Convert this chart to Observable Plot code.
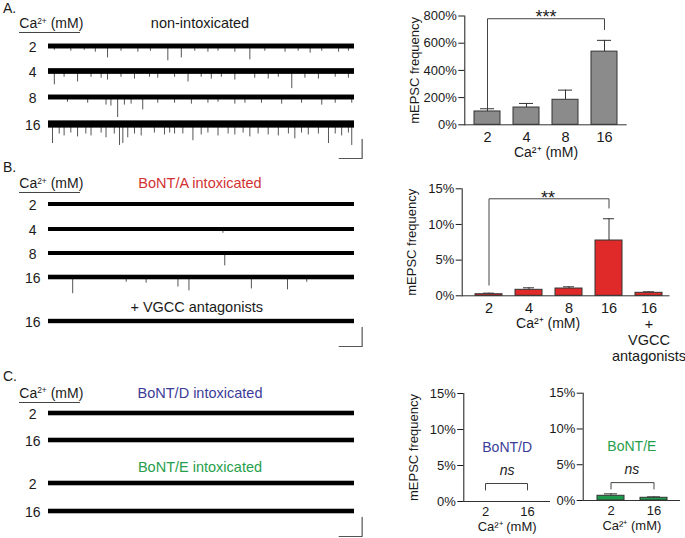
<!DOCTYPE html>
<html><head><meta charset="utf-8">
<script src="https://cdn.jsdelivr.net/npm/d3@7"></script>
<script src="https://cdn.jsdelivr.net/npm/@observablehq/plot@0.6"></script>
<style>
body{margin:0;background:#fff;}
#fig{position:relative;width:685px;height:538px;overflow:hidden;background:#fff;font-family:"Liberation Sans",Arial,Helvetica,sans-serif;color:#1a1a1a;}
.t{position:absolute;white-space:nowrap;line-height:1;}
.t sup{font-size:0.6em;vertical-align:baseline;position:relative;top:-0.55em;}
.ul{position:absolute;height:1px;background:#444;}
.w{position:absolute;}
.w svg{max-width:none;}
</style></head><body><div id="fig"></div>
<script>
// ---------------- DATA ----------------
// Bar charts: mEPSC frequency (% of 2 mM non-intoxicated), mean and SEM
const caA = ["2", "4", "8", "16"];
const meanA = [98, 127, 184, 538];
const semA = [20, 30, 71, 83];
const sigA = {from: "2", to: "16", y: 780, footFrom: 122, footTo: 700, label: "***"};

const caB = ["2", "4", "8", "16", "16\n+\nVGCC\nantagonists"];
const meanB = [0.22, 0.84, 1.02, 7.75, 0.42];
const semB = [0.15, 0.28, 0.24, 3.05, 0.14];
const sigB = {from: "2", to: "16", y: 13.6, footFrom: 1.5, footTo: 12.3, label: "**"};

const caC = ["2", "16"];
const meanD = [0, 0];
const semD = [0, 0];
const sigD = {from: "2", to: "16", y: 2.5, footFrom: 1.6, footTo: 1.6, label: "ns"};
const meanE = [0.66, 0.38];
const semE = [0.27, 0.13];
const sigE = {from: "2", to: "16", y: 2.5, footFrom: 1.6, footTo: 1.6, label: "ns"};
const toxinD = {name: "BoNT/D", y: 7.5};
const toxinE = {name: "BoNT/E", y: 7.5};

const yTicksA = [0, 200, 400, 600, 800];
const yTicksBC = [0, 5, 10, 15];

// Example recordings: [time (% of sweep), mEPSC amplitude (pA, downward)]
const traceDuration = 100;
const scaleBar = {time: 7.5, amp: 20, gap: 2.5};
const spikesA2 = [[1.9,4],[7.3,5],[11.7,4],[15.3,6],[19.3,12],[23.7,5],[29.2,6],[33.3,5],[39.0,15],[43.4,12],[47.8,5],[52.1,6],[55.4,5],[60.9,6],[65.8,14],[70.7,5],[77.3,6],[81.6,5],[85.5,7],[89.3,5],[94.8,6],[98.0,5]];
const spikesA4 = [[1.9,14],[5.1,6],[9.5,11],[13.9,6],[17.2,7],[19.3,9],[23.7,6],[28.1,8],[33.0,6],[35.7,7],[41.2,6],[45.6,11],[49.9,6],[53.2,8],[56.5,6],[60.9,9],[67.4,7],[71.8,8],[75.1,6],[79.5,18],[83.8,7],[88.2,8],[93.7,6],[98.0,7]];
const spikesA8 = [[6.2,5],[12.8,6],[18.8,8],[20.4,9],[22.6,21],[24.8,8],[27.0,7],[30.8,13],[35.7,6],[41.2,6],[46.7,7],[52.1,6],[55.4,5],[60.9,7],[64.2,6],[69.6,6],[76.2,7],[82.7,6],[89.3,8],[93.7,6],[99.1,6]];
const spikesA16 = [[1.3,20],[3.5,10],[5.1,12],[7.3,9],[9.5,13],[12.2,10],[13.9,12],[17.2,9],[18.8,14],[21.5,10],[23.2,22],[24.3,20],[25.9,14],[28.1,10],[30.3,12],[34.6,9],[37.9,11],[39.6,9],[41.2,10],[43.9,10],[47.2,17],[49.9,11],[52.1,9],[55.4,12],[58.7,10],[60.9,11],[63.6,9],[65.8,13],[68.5,10],[71.8,11],[75.1,12],[78.4,10],[80.5,15],[82.7,9],[84.9,11],[88.2,10],[91.5,20],[93.7,10],[95.8,12],[98.0,9],[99.1,22]];
const spikesB2 = [];
const spikesB4 = [[57.0,4]];
const spikesB8 = [[57.6,13]];
const spikesB16 = [[7.9,17],[25.4,5],[31.9,6],[42.3,10],[45.9,14],[66.3,12],[78.1,13],[84.4,5]];
const spikesB16V = [];
const spikesC = [];
const noiseA = [2.6, 3.0, 2.6, 3.8];
const noiseB = [2.1, 2.1, 2.1, 2.4, 2.3];
const noiseC = [2.4, 2.4, 2.4, 2.4];

// ---------------- LAYOUT HELPERS ----------------
const fig = document.getElementById("fig");
const FONT = '"Liberation Sans", Arial, Helvetica, sans-serif';
function place(node, left, top, w, h) {
  const d = document.createElement("div");
  d.className = "w";
  d.style.left = left + "px"; d.style.top = top + "px";
  if (w) d.style.width = w + "px";
  if (h) d.style.height = h + "px";
  d.appendChild(node); fig.appendChild(d); return d;
}
function label(html, x, cy, opts = {}) {
  const d = document.createElement("div");
  d.className = "t";
  d.innerHTML = html;
  d.style.left = x + "px"; d.style.top = cy + "px";
  d.style.fontSize = (opts.size || 14) + "px";
  if (opts.color) d.style.color = opts.color;
  const tx = opts.align === "center" ? "-50%" : opts.align === "right" ? "-100%" : "0";
  d.style.transform = `translate(${tx}, -50%)`;
  fig.appendChild(d);
}
function underline(x, y, w) {
  const d = document.createElement("div");
  d.className = "ul";
  d.style.left = x + "px"; d.style.top = y + "px"; d.style.width = w + "px";
  fig.appendChild(d);
}

// ---------------- TRACES ----------------
const TW = 370, TH = 50, TBASE = 10;
function tracePlot(spikes, noise) {
  return Plot.plot({
    width: TW, height: TH, marginTop: 0, marginBottom: 0, marginLeft: 48, marginRight: 16,
    style: {background: "transparent", overflow: "visible"},
    x: {domain: [0, traceDuration], axis: null},
    y: {domain: [-42, 10.5], axis: null},
    marks: [
      Plot.ruleX(spikes, {x: d => d[0], y1: 0, y2: d => -d[1], stroke: "#555", strokeWidth: 1}),
      Plot.rect([noise], {x1: 0, x2: traceDuration, y1: d => -d, y2: d => d, fill: "#000"})
    ]
  });
}
function scaleBarPlot() {
  const end = traceDuration + scaleBar.gap;
  const pts = [{t: end - scaleBar.time, a: 0}, {t: end, a: 0}, {t: end, a: scaleBar.amp}];
  return Plot.plot({
    width: TW, height: TH, marginTop: 0, marginBottom: 0, marginLeft: 48, marginRight: 16,
    style: {background: "transparent", overflow: "visible"},
    x: {domain: [0, traceDuration], axis: null},
    y: {domain: [-42, 10.5], axis: null},
    marks: [Plot.line(pts, {x: "t", y: "a", stroke: "#555", strokeWidth: 1.2})]
  });
}
function traceRow(lab, spikes, noise, base) {
  place(tracePlot(spikes, noise), 0, base - TBASE, TW, TH);
  label(lab, 32.7, base + 1, {align: "center", size: 14});
}
function header(letter, letterY, caY, title, titleColor, titleY) {
  label(letter, 3, letterY, {size: 14});
  label("Ca<sup>2+</sup> (mM)", 19.3, caY, {size: 14});
  underline(19.3, caY + 9, 61);
  label(title, 200, titleY, {align: "center", size: 14.5, color: titleColor});
}

// Panel A
header("A.", 7.5, 23.3, "non-intoxicated", "#1a1a1a", 22.7);
const baseA = [45.7, 71, 96.7, 124];
[spikesA2, spikesA4, spikesA8, spikesA16].forEach((s, i) => traceRow(caA[i], s, noiseA[i], baseA[i]));
place(scaleBarPlot(), 0, 157.7 - TBASE, TW, TH);

// Panel B
header("B.", 166.7, 183.3, "BoNT/A intoxicated", "#d23232", 182.7);
const baseB = [204, 229, 253.3, 276.7];
[spikesB2, spikesB4, spikesB8, spikesB16].forEach((s, i) => traceRow(caA[i], s, noiseB[i], baseB[i]));
label("+ VGCC antagonists", 196.7, 306.7, {align: "center", size: 14.5});
traceRow("16", spikesB16V, noiseB[4], 320.7);
place(scaleBarPlot(), 0, 346 - TBASE, TW, TH);

// Panel C
header("C.", 376, 392.7, "BoNT/D intoxicated", "#3b3b98", 392.7);
traceRow("2", spikesC, noiseC[0], 413.3);
traceRow("16", spikesC, noiseC[1], 440);
label("BoNT/E intoxicated", 200, 467.3, {align: "center", size: 14.5, color: "#27a04c"});
traceRow("2", spikesC, noiseC[2], 483.3);
traceRow("16", spikesC, noiseC[3], 510.7);
place(scaleBarPlot(), 0, 535.7 - TBASE, TW, TH);

// ---------------- BAR CHARTS ----------------
function barChart(o) {
  const data = o.cats.map((c, i) => ({ca: c, mean: o.means[i], sem: o.sems[i]}));
  const s = o.sig;
  const ns = s.label === "ns";
  const bracket = [{ca: s.from, v: s.footFrom}, {ca: s.from, v: s.y}, {ca: s.to, v: s.y}, {ca: s.to, v: s.footTo}];
  const marks = [
    Plot.ruleX(data, {x: "ca", y1: "mean", y2: d => d.mean + d.sem, stroke: "#333", strokeWidth: 1}),
    Plot.tickY(data, {x: "ca", y: d => d.mean + d.sem, stroke: "#333", strokeWidth: 1, insetLeft: o.cap, insetRight: o.cap}),
    Plot.barY(data, {x: "ca", y: "mean", fill: o.fill, stroke: "#333", strokeWidth: 1}),
    Plot.ruleY([0], {stroke: "#333", strokeWidth: 1}),
    Plot.line(bracket, {x: "ca", y: "v", stroke: "#444", strokeWidth: 1}),
    Plot.text([s], {y: "y", text: "label", frameAnchor: "middle", dx: o.midDx || 0, dy: ns ? -13 : -1,
      fontSize: ns ? 14 : 18, fontStyle: ns ? "italic" : "normal"}),
    Plot.axisX({tickSize: 0, tickPadding: o.tickPad ?? 6, fontSize: o.tickFont ?? 14.5, lineHeight: 1.1, label: null}),
    Plot.text(["Ca²⁺ (mM)"], {text: d => d, frameAnchor: "bottom", dy: o.xLabelDy, dx: o.midDx || 0, fontSize: o.caFont ?? 14})
  ];
  if (o.toxin) marks.push(Plot.text([o.toxin], {y: "y", text: "name", frameAnchor: "middle", fontSize: 14, fill: o.toxinColor}));
  return Plot.plot({
    width: o.width, height: o.height,
    marginLeft: o.ml, marginRight: o.mr, marginTop: o.mt, marginBottom: o.mb,
    style: {background: "transparent", overflow: "visible", fontFamily: FONT, fontSize: "13px", color: "#1a1a1a"},
    x: {domain: o.cats, paddingInner: o.pi, paddingOuter: o.po, align: o.align ?? 0.5},
    y: {domain: [0, o.yMax], ticks: o.yTicks, tickFormat: d => d + "%", tickSize: 6, tickPadding: 2,
        label: o.yLabel ? "mEPSC frequency" : null, labelAnchor: "center", labelOffset: 55, labelArrow: "none", line: true},
    marks
  });
}

place(barChart({cats: caA, means: meanA, sems: semA, fill: "#8b8b8b", sig: sigA, yMax: 800, yTicks: yTicksA,
  width: 300, height: 170, ml: 79.3, mr: 58.3, mt: 15.5, mb: 45.7, pi: 0.33, po: 0.2, cap: 6, xLabelDy: 32, yLabel: true}), 385, 0, 300, 170);
place(barChart({cats: caB, means: meanB, sems: semB, fill: "#e02a2a", sig: sigB, yMax: 15, yTicks: yTicksBC,
  width: 300, height: 200, ml: 76.7, mr: 15.5, mt: 18.3, mb: 74.7, pi: 0.323, po: 0.24, align: 0.64, cap: 8, xLabelDy: 32, midDx: -18, yLabel: true,
  tickFont: 14.5}), 385, 170, 300, 200);
place(barChart({cats: caC, means: meanD, sems: semD, fill: "#1f9a4c", sig: sigD, yMax: 15, yTicks: yTicksBC,
  width: 170, height: 163, ml: 78.3, mr: 5, mt: 18, mb: 37, pi: 0.37, po: 0.2, cap: 7, xLabelDy: 29.5, yLabel: true,
  tickFont: 13, tickPad: 4, caFont: 13, toxin: toxinD, toxinColor: "#3b3b98"}), 385, 375, 170, 163);
place(barChart({cats: caC, means: meanE, sems: semE, fill: "#1f9a4c", sig: sigE, yMax: 15, yTicks: yTicksBC,
  width: 130, height: 163, ml: 27.7, mr: 5, mt: 17.7, mb: 38, pi: 0.38, po: 0.3, cap: 7, xLabelDy: 29.5, yLabel: false,
  tickFont: 13, tickPad: 4, caFont: 13, toxin: toxinE, toxinColor: "#27a04c"}), 555, 375, 130, 163);
</script></body></html>
